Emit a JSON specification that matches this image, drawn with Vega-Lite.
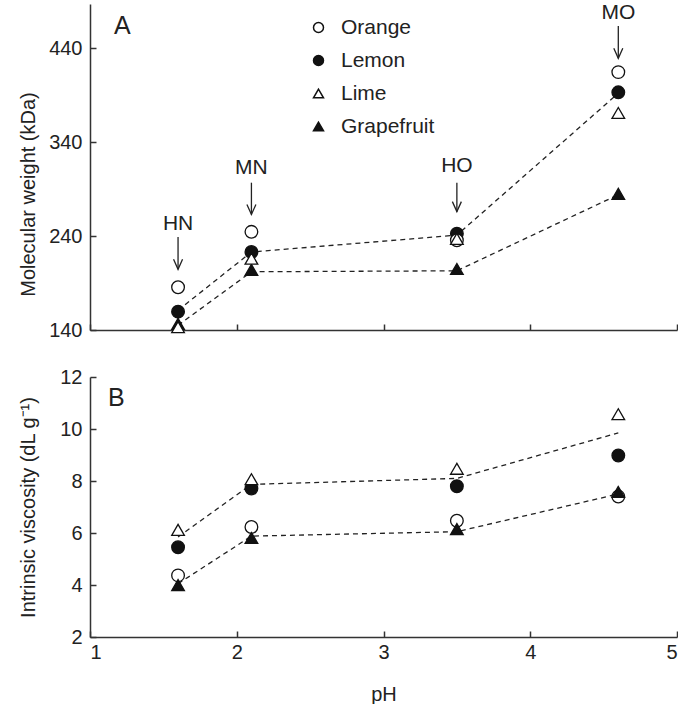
{
  "$schema": "https://vega.github.io/schema/vega-lite/v6.json",
  "padding": {"left": 17, "top": 1, "right": 0, "bottom": 0},
  "background": "white",
  "config": {
    "font": "Liberation Sans",
    "view": {"stroke": null},
    "concat": {"spacing": 47},
    "axis": {
      "grid": false,
      "domainColor": "#333",
      "domainWidth": 1.5,
      "tickColor": "#333",
      "tickWidth": 1.5,
      "tickSize": -6,
      "labelPadding": 14,
      "labelFontSize": 20,
      "labelColor": "#222",
      "labelFont": "Liberation Sans",
      "titleFont": "Liberation Sans",
      "titleFontSize": 20,
      "titleFontWeight": "normal",
      "titleColor": "#222"
    }
  },
  "bounds": "flush",
  "datasets": {
    "mw": [
      {"pH": 1.6, "fruit": "Lemon", "value": 159.5},
      {"pH": 1.6, "fruit": "Orange", "value": 185.5},
      {"pH": 1.6, "fruit": "Grapefruit", "value": 146.5},
      {"pH": 1.6, "fruit": "Lime", "value": 143},
      {"pH": 2.1, "fruit": "Lemon", "value": 223},
      {"pH": 2.1, "fruit": "Orange", "value": 244.5},
      {"pH": 2.1, "fruit": "Grapefruit", "value": 204},
      {"pH": 2.1, "fruit": "Lime", "value": 216},
      {"pH": 3.5, "fruit": "Lemon", "value": 242.5},
      {"pH": 3.5, "fruit": "Orange", "value": 235.5},
      {"pH": 3.5, "fruit": "Grapefruit", "value": 205},
      {"pH": 3.5, "fruit": "Lime", "value": 237},
      {"pH": 4.6, "fruit": "Lemon", "value": 393},
      {"pH": 4.6, "fruit": "Orange", "value": 414.5},
      {"pH": 4.6, "fruit": "Grapefruit", "value": 285},
      {"pH": 4.6, "fruit": "Lime", "value": 371}
    ],
    "mwfit": [
      {"pH": 1.6, "fit": "upper", "value": 161},
      {"pH": 2.1, "fit": "upper", "value": 223},
      {"pH": 3.5, "fit": "upper", "value": 241},
      {"pH": 4.6, "fit": "upper", "value": 392},
      {"pH": 1.6, "fit": "lower", "value": 145},
      {"pH": 2.1, "fit": "lower", "value": 202},
      {"pH": 3.5, "fit": "lower", "value": 203},
      {"pH": 4.6, "fit": "lower", "value": 284}
    ],
    "iv": [
      {"pH": 1.6, "fruit": "Lemon", "value": 5.45},
      {"pH": 1.6, "fruit": "Orange", "value": 4.37},
      {"pH": 1.6, "fruit": "Grapefruit", "value": 4.0},
      {"pH": 1.6, "fruit": "Lime", "value": 6.12},
      {"pH": 2.1, "fruit": "Lemon", "value": 7.71},
      {"pH": 2.1, "fruit": "Orange", "value": 6.23},
      {"pH": 2.1, "fruit": "Grapefruit", "value": 5.81},
      {"pH": 2.1, "fruit": "Lime", "value": 8.07},
      {"pH": 3.5, "fruit": "Lemon", "value": 7.8},
      {"pH": 3.5, "fruit": "Orange", "value": 6.47},
      {"pH": 3.5, "fruit": "Grapefruit", "value": 6.15},
      {"pH": 3.5, "fruit": "Lime", "value": 8.47},
      {"pH": 4.6, "fruit": "Lemon", "value": 8.98},
      {"pH": 4.6, "fruit": "Orange", "value": 7.4},
      {"pH": 4.6, "fruit": "Grapefruit", "value": 7.58},
      {"pH": 4.6, "fruit": "Lime", "value": 10.57}
    ],
    "ivfit": [
      {"pH": 1.6, "fit": "upper", "value": 5.85},
      {"pH": 2.1, "fit": "upper", "value": 7.87},
      {"pH": 3.5, "fit": "upper", "value": 8.1},
      {"pH": 4.6, "fit": "upper", "value": 9.85},
      {"pH": 1.6, "fit": "lower", "value": 4.05},
      {"pH": 2.1, "fit": "lower", "value": 5.88},
      {"pH": 3.5, "fit": "lower", "value": 6.05},
      {"pH": 4.6, "fit": "lower", "value": 7.5}
    ],
    "arrows": [
      {"pH": 1.6, "label": "HN", "text_y": 252.8, "start": 239, "tip": 204.6},
      {"pH": 2.1, "label": "MN", "text_y": 312.8, "start": 296.8, "tip": 263},
      {"pH": 3.5, "label": "HO", "text_y": 314.6, "start": 296.8, "tip": 266},
      {"pH": 4.6, "label": "MO", "text_y": 477.7, "start": 463.6, "tip": 429.2}
    ]
  },
  "resolve": {"scale": {"shape": "independent", "fill": "independent"}},
  "vconcat": [
    {
      "width": 587,
      "height": 326,
      "layer": [
        {
          "data": {"name": "mwfit"},
          "mark": {"type": "line", "color": "#222", "strokeWidth": 1.3, "strokeDash": [5, 4]},
          "encoding": {
            "x": {"field": "pH", "type": "quantitative", "scale": {"domain": [1, 5], "nice": false}, "axis": {"values": [1, 2, 3, 4, 5], "labels": false, "title": null}},
            "y": {"field": "value", "type": "quantitative", "scale": {"domain": [140, 487], "nice": false, "zero": false}, "axis": {"values": [140, 240, 340, 440], "title": "Molecular weight (kDa)", "titleX": -52, "titleY": 190}},
            "detail": {"field": "fit"}
          }
        },
        {
          "data": {"name": "mw"},
          "mark": {"type": "point", "stroke": "#111", "strokeWidth": 1.3, "size": 160, "opacity": 1, "fillOpacity": 1},
          "encoding": {
            "x": {"field": "pH", "type": "quantitative"},
            "y": {"field": "value", "type": "quantitative"},
            "shape": {"field": "fruit", "type": "nominal", "scale": {"domain": ["Orange", "Lemon", "Lime", "Grapefruit"], "range": ["circle", "circle", "triangle-up", "triangle-up"]},
              "legend": {"orient": "none", "legendX": 218, "legendY": 13, "title": null, "symbolSize": 100, "labelFontSize": 21, "labelColor": "#222", "labelFont": "Liberation Sans", "rowPadding": 11, "labelOffset": 12,
                "encode": {"symbols": {"update": {"stroke": {"value": "#111"}, "strokeWidth": {"value": 1.2}}}}}},
            "fill": {"field": "fruit", "type": "nominal", "scale": {"domain": ["Orange", "Lemon", "Lime", "Grapefruit"], "range": ["white", "#111", "white", "#111"]},
              "legend": {"orient": "none", "legendX": 218, "legendY": 13, "title": null, "symbolSize": 100, "labelFontSize": 21, "labelColor": "#222", "labelFont": "Liberation Sans", "rowPadding": 11, "labelOffset": 12,
                "encode": {"symbols": {"update": {"stroke": {"value": "#111"}, "strokeWidth": {"value": 1.2}}}}}}
          }
        },
        {
          "data": {"name": "arrows"},
          "mark": {"type": "rule", "color": "#222", "strokeWidth": 1.3},
          "encoding": {
            "x": {"field": "pH", "type": "quantitative"},
            "y": {"field": "start", "type": "quantitative"},
            "y2": {"field": "tip"}
          }
        },
        {
          "data": {"name": "arrows"},
          "mark": {"type": "point", "shape": "M-0.45,-1L0,0L0.45,-1", "size": 400, "filled": false, "stroke": "#222", "strokeWidth": 1.3, "opacity": 1},
          "encoding": {
            "x": {"field": "pH", "type": "quantitative"},
            "y": {"field": "tip", "type": "quantitative"}
          }
        },
        {
          "data": {"name": "arrows"},
          "mark": {"type": "text", "fontSize": 21, "color": "#222", "font": "Liberation Sans", "baseline": "middle"},
          "encoding": {
            "x": {"field": "pH", "type": "quantitative"},
            "y": {"field": "text_y", "type": "quantitative"},
            "text": {"field": "label"}
          }
        },
        {
          "data": {"values": [{"panel": "A", "pH": 1.22, "value": 463.6}]},
          "mark": {"type": "text", "fontSize": 25, "color": "#222", "font": "Liberation Sans", "baseline": "middle"},
          "encoding": {
            "x": {"field": "pH", "type": "quantitative"},
            "y": {"field": "value", "type": "quantitative"},
            "text": {"field": "panel"}
          }
        }
      ]
    },
    {
      "width": 587,
      "height": 260,
      "layer": [
        {
          "data": {"name": "ivfit"},
          "mark": {"type": "line", "color": "#222", "strokeWidth": 1.3, "strokeDash": [5, 4]},
          "encoding": {
            "x": {"field": "pH", "type": "quantitative", "scale": {"domain": [1, 5], "nice": false}, "axis": {"values": [1, 2, 3, 4, 5], "format": "d", "labelPadding": 11, "title": "pH", "titlePadding": 22}},
            "y": {"field": "value", "type": "quantitative", "scale": {"domain": [2, 12], "nice": false, "zero": false}, "axis": {"values": [2, 4, 6, 8, 10, 12], "title": "Intrinsic viscosity (dL g⁻¹)", "titleX": -52, "titleY": 130}},
            "detail": {"field": "fit"}
          }
        },
        {
          "data": {"name": "iv"},
          "mark": {"type": "point", "stroke": "#111", "strokeWidth": 1.3, "size": 160, "opacity": 1, "fillOpacity": 1},
          "encoding": {
            "x": {"field": "pH", "type": "quantitative"},
            "y": {"field": "value", "type": "quantitative"},
            "shape": {"field": "fruit", "type": "nominal", "scale": {"domain": ["Orange", "Lemon", "Lime", "Grapefruit"], "range": ["circle", "circle", "triangle-up", "triangle-up"]}, "legend": null},
            "fill": {"field": "fruit", "type": "nominal", "scale": {"domain": ["Orange", "Lemon", "Lime", "Grapefruit"], "range": ["white", "#111", "white", "#111"]}, "legend": null}
          }
        },
        {
          "data": {"values": [{"panel": "B", "pH": 1.18, "value": 11.19}]},
          "mark": {"type": "text", "fontSize": 25, "color": "#222", "font": "Liberation Sans", "baseline": "middle"},
          "encoding": {
            "x": {"field": "pH", "type": "quantitative"},
            "y": {"field": "value", "type": "quantitative"},
            "text": {"field": "panel"}
          }
        }
      ]
    }
  ]
}
